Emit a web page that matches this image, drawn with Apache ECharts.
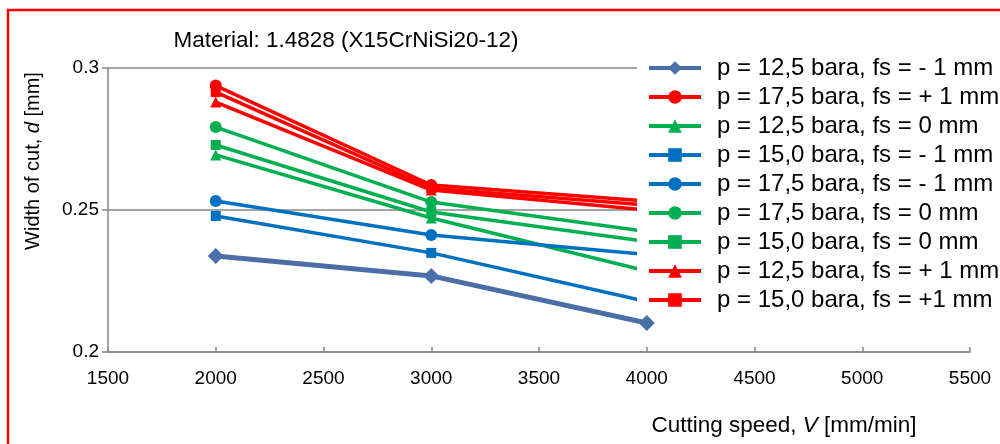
<!DOCTYPE html>
<html>
<head>
<meta charset="utf-8">
<script src="https://cdn.jsdelivr.net/npm/echarts@6/dist/echarts.min.js"></script>
<style>html,body{margin:0;padding:0;background:#fff}#c{width:1000px;height:444px}</style>
</head>
<body>
<div id="c"></div>
<script>
var speeds = [2000, 3000, 4000];
var xTicks = [1500, 2000, 2500, 3000, 3500, 4000, 4500, 5000, 5500];
var yTicks = [0.2, 0.25, 0.3];
var seriesNames = [
  'p = 12,5 bara, fs = - 1 mm',
  'p = 17,5 bara, fs = + 1 mm',
  'p = 12,5 bara, fs = 0 mm',
  'p = 15,0 bara, fs = - 1 mm',
  'p = 17,5 bara, fs = - 1 mm',
  'p = 17,5 bara, fs = 0 mm',
  'p = 15,0 bara, fs = 0 mm',
  'p = 12,5 bara, fs = + 1 mm',
  'p = 15,0 bara, fs = +1 mm'
];
var s1 = [0.2338, 0.2268, 0.2102];
var s2 = [0.2938, 0.2588, 0.2532];
var s3 = [0.2694, 0.2472, 0.2285];
var s4 = [0.2479, 0.2349, 0.2178];
var s5 = [0.2532, 0.2412, 0.2343];
var s6 = [0.2792, 0.2528, 0.2424];
var s7 = [0.2729, 0.2493, 0.2389];
var s8 = [0.2880, 0.2570, 0.2500];
var s9 = [0.2915, 0.2577, 0.2518];
var seriesValues = [s1, s2, s3, s4, s5, s6, s7, s8, s9];

var colors = ['#4A6EA8', '#FF0000', '#00B050', '#0070C0', '#0070C0', '#00B050', '#00B050', '#FF0000', '#FF0000'];
var symbols = ['diamond', 'circle', 'triangle', 'rect', 'circle', 'circle', 'rect', 'triangle', 'rect'];
var symbolSizes = [16, 12, 11, 10, 12, 12, 10, 11, 10];
var lineWidths = [5, 3.5, 3.5, 3.5, 3.5, 3.5, 3.5, 3.5, 3.5];

var FONT = '"Liberation Sans", Arial, Helvetica, sans-serif';

var series = seriesNames.map(function (name, i) {
  return {
    name: name,
    type: 'line',
    data: speeds.map(function (x, j) { return [x, seriesValues[i][j]]; }),
    symbol: symbols[i],
    symbolSize: symbolSizes[i],
    showAllSymbol: true,
    color: colors[i],
    itemStyle: { color: colors[i] },
    lineStyle: { color: colors[i], width: lineWidths[i] },
    z: i === 0 ? 5 : 2,
    animation: false
  };
});

var chart = echarts.init(document.getElementById('c'), null, { renderer: 'canvas' });
chart.setOption({
  animation: false,
  backgroundColor: '#ffffff',
  grid: { left: 108, right: 30, top: 68, bottom: 92, containLabel: false },
  xAxis: {
    type: 'value',
    min: xTicks[0], max: xTicks[xTicks.length - 1], interval: 500,
    axisLine: { show: true, lineStyle: { color: '#868686', width: 1.5 } },
    axisTick: { show: true, inside: true, length: 5, lineStyle: { color: '#868686', width: 1.5 } },
    axisLabel: { margin: 17, color: '#000', fontSize: 19, fontFamily: FONT,
      formatter: function (v) { return String(v); } },
    splitLine: { show: false }
  },
  yAxis: {
    type: 'value',
    min: yTicks[0], max: yTicks[yTicks.length - 1], interval: 0.05,
    axisLine: { show: true, lineStyle: { color: '#868686', width: 1.5 } },
    axisTick: { show: true, inside: false, length: 6, lineStyle: { color: '#868686', width: 1.5 } },
    axisLabel: { margin: 9, color: '#000', fontSize: 19, fontFamily: FONT,
      formatter: function (v) { return String(Math.round(v * 100) / 100); } },
    splitLine: { show: true, lineStyle: { color: '#868686', width: 1.5 } }
  },
  legend: {
    show: true,
    orient: 'vertical',
    left: 637, top: 50,
    padding: [6, 10, 2, 10],
    backgroundColor: '#ffffff',
    itemWidth: 52, itemHeight: 17, itemGap: 5,
    lineStyle: { width: 4 },
    textStyle: { color: '#000', fontSize: 24, lineHeight: 23, fontFamily: FONT, padding: [0, 0, 0, 11] },
    data: seriesNames
  },
  series: series,
  graphic: [
    { type: 'rect', shape: { x: 8, y: 10, width: 1100, height: 600 }, style: { fill: 'none', stroke: '#FF0000', lineWidth: 2.5 }, z: 100, silent: true },
    { type: 'text', x: 346, y: 41, style: { text: 'Material: 1.4828 (X15CrNiSi20-12)', fontSize: 22.5, fontFamily: FONT, fill: '#000', textAlign: 'center', textVerticalAlign: 'middle' } },
    { type: 'text', x: 33, y: 161, rotation: Math.PI / 2,
      style: { text: 'Width of cut, {it|d} [mm]', fontSize: 20, fontFamily: FONT, fill: '#000', textAlign: 'center', textVerticalAlign: 'middle',
        rich: { it: { fontStyle: 'italic', fontSize: 20, fontFamily: FONT, fill: '#000' } } } },
    { type: 'text', x: 784, y: 426,
      style: { text: 'Cutting speed, {it|V} [mm/min]', fontSize: 22.5, fontFamily: FONT, fill: '#000', textAlign: 'center', textVerticalAlign: 'middle',
        rich: { it: { fontStyle: 'italic', fontSize: 22.5, fontFamily: FONT, fill: '#000' } } } }
  ]
});
</script>
</body>
</html>
